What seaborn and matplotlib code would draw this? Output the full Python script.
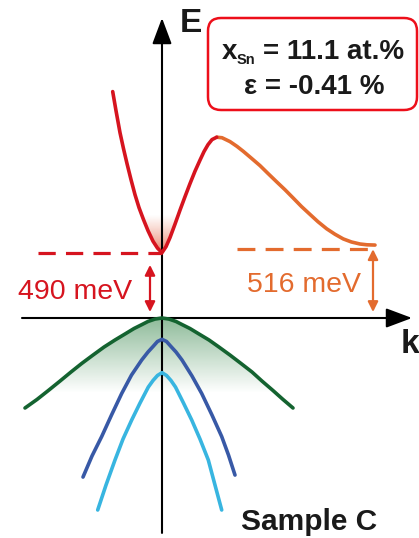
import numpy as np
import matplotlib
matplotlib.use("Agg")
import matplotlib.pyplot as plt
import seaborn as sns
from matplotlib.patches import Polygon, FancyBboxPatch

# ---- band structure data: wave vector k (arb. units), energy E (meV) ----
# conduction band, Gamma valley (rising into the hump towards L)
gamma_k = [-0.493, -0.46, -0.42, -0.385, -0.35, -0.31, -0.27, -0.23, -0.185, -0.14,
           -0.09, -0.045, 0.0, 0.04, 0.08, 0.13, 0.18, 0.23, 0.28, 0.33, 0.38,
           0.42, 0.46, 0.50, 0.547]
gamma_E = [1698, 1555, 1390, 1270, 1158, 1038, 925, 828, 738, 655,
           576, 524, 490, 535, 603, 704, 809, 910, 1008, 1101, 1184,
           1248, 1300, 1338, 1356]

# conduction band, descending towards the L valley
l_k = [0.547, 0.60, 0.68, 0.75, 0.813, 0.89, 0.98, 1.06, 1.147, 1.23, 1.313,
       1.395, 1.48, 1.56, 1.647, 1.73, 1.813, 1.895, 1.98, 2.05, 2.13]
l_E = [1356, 1352, 1323, 1287, 1250, 1201, 1143, 1084, 1021, 962, 899,
       836, 777, 722, 669, 628, 593, 570, 555, 549, 547]

# heavy-hole valence band
hh_k = [-1.37, -1.25, -1.137, -1.02, -0.91, -0.803, -0.69, -0.58, -0.47, -0.37,
        -0.28, -0.20, -0.14, -0.07, 0.0, 0.07, 0.14, 0.20, 0.28, 0.37, 0.47,
        0.57, 0.68, 0.79, 0.90, 1.00, 1.11, 1.21, 1.31]
hh_E = [-675, -611, -544, -473, -405, -341, -278, -218, -165, -120,
        -79, -49, -26, -8, 0, -8, -26, -49, -79, -120, -165,
        -218, -278, -341, -405, -473, -544, -611, -675]

# light-hole valence band
lh_k = [-0.79, -0.70, -0.603, -0.505, -0.403, -0.305, -0.203, -0.14, -0.09, -0.045,
        0.0, 0.045, 0.09, 0.14, 0.20, 0.30, 0.397, 0.50, 0.597, 0.665, 0.73]
lh_E = [-1193, -1035, -889, -728, -566, -428, -315, -255, -214, -176,
        -160, -176, -214, -255, -315, -435, -566, -728, -889, -1028, -1178]

# split-off valence band
so_k = [-0.643, -0.56, -0.47, -0.39, -0.303, -0.22, -0.137, -0.09, -0.045, 0.0,
        0.045, 0.09, 0.135, 0.215, 0.297, 0.38, 0.463, 0.53, 0.597]
so_E = [-1440, -1253, -1065, -908, -765, -638, -518, -469, -431, -410,
        -431, -469, -518, -638, -765, -908, -1065, -1253, -1440]

gap_gamma = 490     # meV, direct gap
gap_l = 516         # meV, indirect (L) gap
x_sn = 11.1         # at.%
strain = -0.41      # %
sample = "Sample C"

# ---- colours ----
RED = (0.84, 0.08, 0.12)
ORANGE = (0.89, 0.42, 0.18)
GREEN = (0.08, 0.39, 0.19)
DBLUE = (0.22, 0.35, 0.65)
LBLUE = (0.22, 0.71, 0.88)
BOX_RED = (0.93, 0.06, 0.10)
INK = "#1a1a1a"

sns.set_theme(style="white")
plt.rcParams["font.family"] = ["Liberation Sans", "DejaVu Sans"]

fig = plt.figure(figsize=(4.19, 5.38), dpi=100)
ax = fig.add_axes([0, 0, 1, 1])
ax.set_axis_off()
XLIM = (-1.62, 2.57)
YLIM = (-1650, 2385)


def gradient_fill(k_clip, e_clip, k_lo, k_hi, e_lo, e_hi, rgb, a_lo, a_hi, gamma=1.0):
    """Vertical colour gradient clipped to the polygon (k_clip, e_clip)."""
    n = 256
    t = np.linspace(0.0, 1.0, n) ** gamma
    img = np.zeros((n, 2, 4))
    img[..., :3] = rgb
    img[..., 3] = (a_lo + (a_hi - a_lo) * t)[:, None]
    im = ax.imshow(img, extent=[k_lo, k_hi, e_lo, e_hi], origin="lower",
                   aspect="auto", interpolation="bilinear", zorder=1)
    poly = Polygon(np.column_stack([k_clip, e_clip]), closed=True,
                   transform=ax.transData, facecolor="none", edgecolor="none")
    im.set_clip_path(poly)


# shaded electron pocket at the bottom of the Gamma valley
g_k = np.array(gamma_k)
g_E = np.array(gamma_E)
sel = (g_E <= 830) & (g_k < 0.3)
gradient_fill(g_k[sel], g_E[sel], -0.3, 0.3, gap_gamma, 770,
              (0.90, 0.40, 0.28), 0.95, 0.0, gamma=0.7)

# shaded hole states below the valence band maximum
gradient_fill(hh_k, hh_E, -1.4, 1.35, -560, 0,
              (0.20, 0.52, 0.28), 0.0, 0.55)

# ---- coordinate axes ----
ax.annotate("", xy=(0, 2250), xytext=(0, -1612),
            arrowprops=dict(arrowstyle="-|>,head_length=0.8,head_width=0.3",
                            mutation_scale=20, lw=1.5, color="black",
                            shrinkA=0, shrinkB=0), zorder=2)
ax.annotate("", xy=(2.50, 0), xytext=(-1.40, 0),
            arrowprops=dict(arrowstyle="-|>,head_length=0.8,head_width=0.3",
                            mutation_scale=20, lw=1.5, color="black",
                            shrinkA=0, shrinkB=0), zorder=2)
ax.text(0.18, 2145, "E", fontsize=24, fontweight="bold", ha="left",
        va="baseline", color=INK)
ax.text(2.385, -263, "k", fontsize=24, fontweight="bold", ha="left",
        va="baseline", color=INK)

# ---- bands ----
lw = 2.6
sns.lineplot(x=hh_k, y=hh_E, ax=ax, color=GREEN, linewidth=lw, sort=False, zorder=3)
sns.lineplot(x=lh_k, y=lh_E, ax=ax, color=DBLUE, linewidth=lw, sort=False, zorder=3)
sns.lineplot(x=so_k, y=so_E, ax=ax, color=LBLUE, linewidth=lw, sort=False, zorder=3)
sns.lineplot(x=l_k, y=l_E, ax=ax, color=ORANGE, linewidth=lw, sort=False, zorder=3)
sns.lineplot(x=gamma_k, y=gamma_E, ax=ax, color=RED, linewidth=lw, sort=False, zorder=3)

# ---- band-edge markers ----
ax.plot([-1.24, 0.0], [gap_gamma, gap_gamma], color=RED, lw=2.3,
        dashes=(5.4, 3.2), zorder=3)
ax.plot([0.75, 2.13], [gap_l, gap_l], color=ORANGE, lw=2.3,
        dashes=(5.6, 3.2), zorder=3)

arrow_kw = dict(arrowstyle="<|-|>,head_length=0.6,head_width=0.3",
                mutation_scale=10, lw=1.6)
ax.annotate("", xy=(-0.12, gap_gamma), xytext=(-0.12, 0),
            arrowprops=dict(color=RED, shrinkA=4.3, shrinkB=8.8, **arrow_kw))
ax.annotate("", xy=(2.11, gap_l), xytext=(2.11, 0),
            arrowprops=dict(color=ORANGE, shrinkA=4.3, shrinkB=0, **arrow_kw))

ax.text(-0.87, 140, f"{gap_gamma} meV", fontsize=20.5, color=RED,
        ha="center", va="baseline")
ax.text(1.415, 197, f"{gap_l} meV", fontsize=20.5, color=ORANGE,
        ha="center", va="baseline")

ax.text(1.47, -1590, sample, fontsize=21.5, fontweight="bold",
        color=INK, ha="center", va="baseline")

# ---- composition / strain box ----
box = FancyBboxPatch((2.08, 4.28), 2.09, 0.92,
                     boxstyle="round,pad=0,rounding_size=0.13",
                     transform=fig.dpi_scale_trans, facecolor="white",
                     edgecolor=BOX_RED, lw=1.8, zorder=5)
ax.add_patch(box)
ax.text(0.60, 1940, "x", fontsize=20, fontweight="bold", color=INK,
        ha="left", va="baseline", zorder=6)
ax.text(0.75, 1903, "Sn", fontsize=10.5, fontweight="bold", color=INK,
        ha="left", va="baseline", zorder=6)
ax.text(1.01, 1940, f"= {x_sn} at.%", fontsize=20, fontweight="bold",
        color=INK, ha="left", va="baseline", zorder=6)
ax.text(1.52, 1678, f"\u03b5 = {strain} %", fontsize=20, fontweight="bold",
        color=INK, ha="center", va="baseline", zorder=6)

ax.set_xlim(*XLIM)
ax.set_ylim(*YLIM)
fig.savefig("out.png", dpi=100)
